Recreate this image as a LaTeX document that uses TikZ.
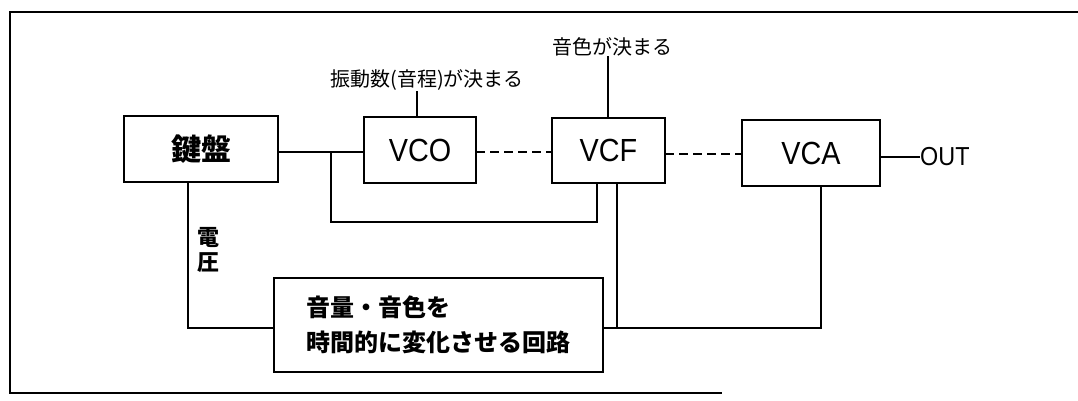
\documentclass[tikz,border=0pt]{standalone}
\usepackage{fontspec}
\newfontfamily\jp{Noto Sans CJK JP}
\newfontfamily\lat[FakeStretch=0.9]{Liberation Sans}
\begin{document}
\begin{tikzpicture}[x=1pt,y=-1pt,
  blk/.style={draw,line width=2.6pt,inner sep=0pt,outer sep=0pt,rectangle},
  wire/.style={line width=2pt},
  dwire/.style={line width=2pt,dash pattern=on 9pt off 5pt},
  frm/.style={line width=1.4pt},
  lbl/.style={inner sep=0pt,font=\jp\fontsize{20}{22}\selectfont}]
\useasboundingbox (0,0) rectangle (1078,400);
% frame
\coordinate (f1) at (10,12);
\coordinate (f2) at (1078,12);
\coordinate (f3) at (10,393);
\coordinate (f4) at (722,393);
\draw[frm] (f2) -- (f1) -- (f3) -- (f4);
% blocks
\node[blk,minimum width=154pt,minimum height=66pt,font=\jp\bfseries\fontsize{30}{32}\selectfont] (kb) at (201,149) {鍵盤};
\node[blk,minimum width=112pt,minimum height=66pt,font=\lat\fontsize{32}{34}\selectfont] (vco) at (420,150) {VCO};
\node[blk,minimum width=113pt,minimum height=65pt,font=\lat\fontsize{32}{34}\selectfont] (vcf) at (608.5,150.5) {VCF};
\node[blk,minimum width=138pt,minimum height=66pt,font=\lat\fontsize{32}{34}\selectfont] (vca) at (811,153) {VCA};
\node[blk,minimum width=329pt,minimum height=94pt,align=left,font=\jp\bfseries\fontsize{24}{35}\selectfont] (env) at (438.5,325) {音量・音色を\\時間的に変化させる回路};
% labels
\node[lbl] (l1) at (427,80) {振動数(音程)が決まる};
\node[lbl] (l2) at (612,47) {音色が決まる};
\node[inner sep=0pt,font=\lat\fontsize{26}{28}\selectfont,anchor=west] (out) at (920,157) {OUT};
\node[inner sep=0pt,align=center,font=\jp\bfseries\fontsize{22}{25}\selectfont] (volt) at (208,250) {電\\圧};
% coordinates
\coordinate (j) at (331,152);
\coordinate (jb) at (331,222);
\coordinate (fb) at (597,222);
\coordinate (eb) at (821,328);
\coordinate (fc) at (617,328);
\coordinate (kbl) at (188,328);
% connectors
\draw[wire] (kb.east |- j) -- (vco.west |- j);
\draw[wire] (j) -- (jb) -- (fb) -- (fb |- vcf.south);
\draw[wire] (417,0 |- vco.north) -- (417,0 |- l1.south) ;
\draw[wire] (vcf.north -| 608,0) -- (l2.south -| 608,0);
\draw[dwire] (vco.east |- 0,152) -- (vcf.west |- 0,152);
\draw[dwire] (vcf.east |- 0,154) -- (vca.west |- 0,154);
\draw[wire] (vca.east |- out.west) -- (out.west);
\draw[wire] (kb.south -| kbl) -- (kbl) -- (env.west |- kbl);
\draw[wire] (env.east |- eb) -- (eb) -- (eb |- vca.south);
\draw[wire] (vcf.south -| fc) -- (fc);
\end{tikzpicture}
\end{document}
